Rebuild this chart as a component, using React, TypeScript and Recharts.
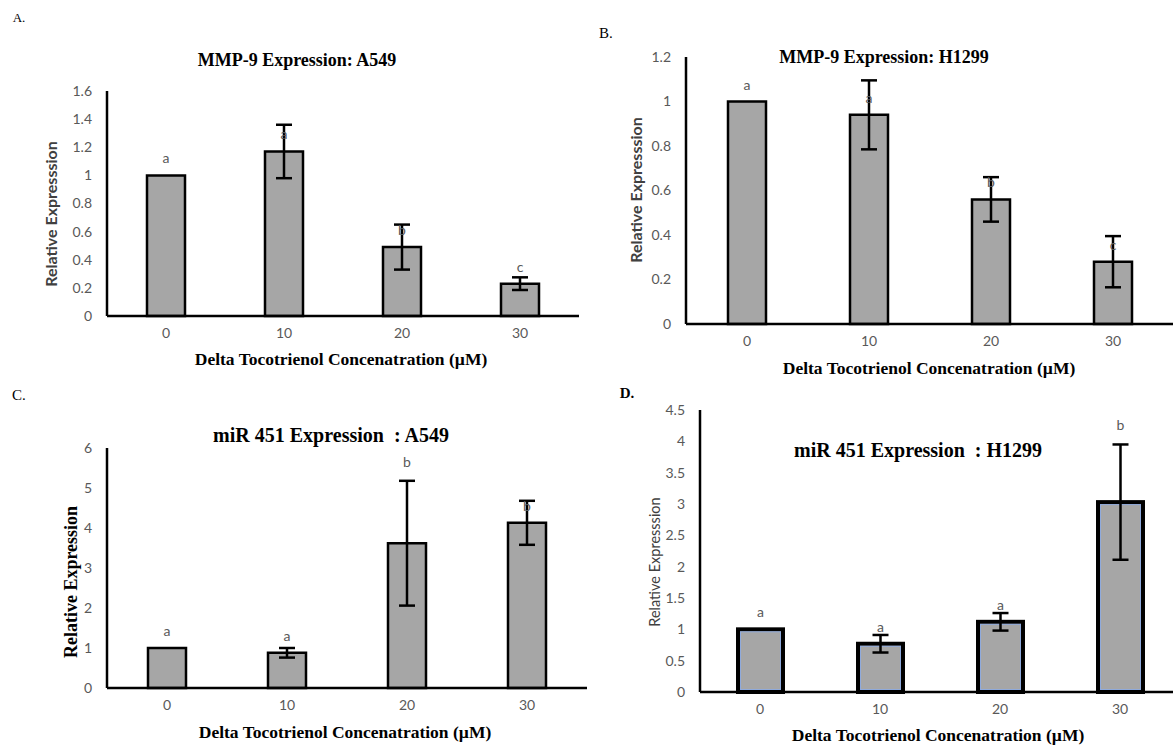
import React from "react";
import { BarChart, Bar, XAxis, YAxis, ErrorBar, LabelList } from "recharts";

const doses = ["0", "10", "20", "30"];

// A. MMP-9 / A549
const mmpA549 = [1.0, 1.17, 0.49, 0.23];
const mmpA549Err = [0, 0.19, 0.16, 0.045];
const mmpA549Letters = ["a", "a", "b", "c"];
const mmpA549Ticks = [0, 0.2, 0.4, 0.6, 0.8, 1, 1.2, 1.4, 1.6];

// B. MMP-9 / H1299
const mmpH1299 = [1.0, 0.94, 0.56, 0.28];
const mmpH1299Err = [0, 0.155, 0.1, 0.115];
const mmpH1299Letters = ["a", "a", "b", "c"];
const mmpH1299Ticks = [0, 0.2, 0.4, 0.6, 0.8, 1, 1.2];

// C. miR 451 / A549
const mirA549 = [1.0, 0.88, 3.62, 4.13];
const mirA549Err = [0, 0.12, 1.56, 0.55];
const mirA549Letters = ["a", "a", "b", "b"];
const mirA549Ticks = [0, 1, 2, 3, 4, 5, 6];

// D. miR 451 / H1299
const mirH1299 = [1.0, 0.77, 1.12, 3.03];
const mirH1299Err = [0, 0.14, 0.14, 0.92];
const mirH1299Letters = ["a", "a", "a", "b"];
const mirH1299Ticks = [0, 0.5, 1, 1.5, 2, 2.5, 3, 3.5, 4, 4.5];

const xTitle = "Delta Tocotrienol Concenatration (\u00b5M)";
const sans = "Lato, 'Open Sans', sans-serif";
const serif = "'Liberation Serif', 'DejaVu Serif', serif";
const tickGrey = "#595959";

function buildRows(values: number[], errs: number[], letters: string[]) {
  return doses.map((d, i) => ({ dose: d, value: values[i], err: errs[i], letter: letters[i] }));
}

// letter sits just above the bar, or above the error bar when listed in overErr
function makeLetter(values: number[], errs: number[], overErr: number[]) {
  return (props: any) => {
    const { x, y, width, height, index, value } = props;
    const v = values[index];
    const ppu = v ? height / v : 0;
    const top = overErr.includes(index) ? y - errs[index] * ppu - 14 : y - 12;
    return (
      <text x={x + width / 2} y={top} textAnchor="middle" fill={tickGrey} fontSize={14} fontFamily={sans}>
        {value}
      </text>
    );
  };
}

const thickBar = (props: any) => {
  const { x, y, width, height } = props;
  return (
    <g>
      <rect x={x} y={y} width={width} height={height} fill="#a6a6a6" stroke="#000" strokeWidth={4} />
      <rect x={x + 2.5} y={y + 2.5} width={width - 5} height={Math.max(0, height - 5)} fill="none" stroke="#8faadc" strokeWidth={1} />
    </g>
  );
};

interface PanelProps {
  left: number;
  top: number;
  width: number;
  height: number;
  margin: { top: number; right: number; bottom: number; left: number };
  values: number[];
  errs: number[];
  letters: string[];
  ticks: number[];
  overErr: number[];
  barSize: number;
  thick?: boolean;
}

function Panel(p: PanelProps) {
  const rows = buildRows(p.values, p.errs, p.letters);
  const max = p.ticks[p.ticks.length - 1];
  return (
    <div style={{ position: "absolute", left: p.left, top: p.top }}>
      <BarChart width={p.width} height={p.height} data={rows} margin={p.margin}>
        <XAxis
          dataKey="dose"
          height={30}
          axisLine={{ stroke: "#000", strokeWidth: 2.5 }}
          tickLine={false}
          tickMargin={6}
          tick={{ fill: tickGrey, fontSize: 14, fontFamily: sans }}
        />
        <YAxis
          width={50}
          domain={[0, max]}
          ticks={p.ticks}
          interval={0}
          axisLine={{ stroke: "#000", strokeWidth: 2.5 }}
          tickLine={false}
          tickMargin={9}
          tick={{ fill: tickGrey, fontSize: 14, fontFamily: sans }}
        />
        <Bar
          dataKey="value"
          barSize={p.barSize}
          fill="#a6a6a6"
          stroke="#000"
          strokeWidth={2.5}
          shape={p.thick ? thickBar : undefined}
          isAnimationActive={false}
        >
          <ErrorBar dataKey="err" width={8} stroke="#000" strokeWidth={2.5} direction="y" />
          <LabelList dataKey="letter" content={makeLetter(p.values, p.errs, p.overErr)} />
        </Bar>
      </BarChart>
    </div>
  );
}

function Text(props: { x: number; y: number; size: number; font: string; bold?: boolean; rotate?: boolean; color?: string; children: React.ReactNode }) {
  return (
    <div
      style={{
        position: "absolute",
        left: props.x,
        top: props.y,
        transform: `translate(-50%, -50%)${props.rotate ? " rotate(-90deg)" : ""}`,
        whiteSpace: "nowrap",
        fontSize: props.size,
        fontFamily: props.font,
        fontWeight: props.bold ? "bold" : "normal",
        color: props.color || "#000",
        lineHeight: 1,
      }}
    >
      {props.children}
    </div>
  );
}

export default function App() {
  return (
    <div style={{ position: "absolute", left: 0, top: 0, width: 1173, height: 746, overflow: "hidden", background: "#fff" }}>
      <Panel left={0} top={0} width={600} height={380} margin={{ top: 91, right: 21, bottom: 34, left: 57 }}
        values={mmpA549} errs={mmpA549Err} letters={mmpA549Letters} ticks={mmpA549Ticks} overErr={[]} barSize={38} />
      <Panel left={600} top={0} width={580} height={380} margin={{ top: 57, right: 6, bottom: 26, left: 36 }}
        values={mmpH1299} errs={mmpH1299Err} letters={mmpH1299Letters} ticks={mmpH1299Ticks} overErr={[]} barSize={38} />
      <Panel left={0} top={380} width={600} height={366} margin={{ top: 68, right: 13, bottom: 28, left: 57 }}
        values={mirA549} errs={mirA549Err} letters={mirA549Letters} ticks={mirA549Ticks} overErr={[2]} barSize={38} />
      <Panel left={600} top={380} width={590} height={366} margin={{ top: 30, right: 10, bottom: 24, left: 50 }}
        values={mirH1299} errs={mirH1299Err} letters={mirH1299Letters} ticks={mirH1299Ticks} overErr={[3]} barSize={45} thick />

      <Text x={19} y={17} size={13} font={serif}>A.</Text>
      <Text x={606} y={33} size={15} font={serif}>B.</Text>
      <Text x={19} y={395} size={15} font={serif}>C.</Text>
      <Text x={627} y={393} size={15} font={serif} bold>D.</Text>

      <Text x={297} y={60} size={18} font={serif} bold>MMP-9 Expression: A549</Text>
      <Text x={884} y={57} size={18} font={serif} bold>MMP-9 Expression: H1299</Text>
      <Text x={331} y={435} size={20} font={serif} bold>miR 451 Expression&nbsp;&nbsp;: A549</Text>
      <Text x={918} y={450} size={20} font={serif} bold>miR 451 Expression&nbsp;&nbsp;: H1299</Text>

      <Text x={51} y={214} size={16} font={sans} bold rotate color="#404040">Relative Expresssion</Text>
      <Text x={636} y={190} size={16} font={sans} bold rotate color="#404040">Relative Expresssion</Text>
      <Text x={71} y={582} size={18} font={serif} bold rotate>Relative Expression</Text>
      <Text x={655} y={562} size={14.5} font={sans} rotate color="#404040">Relative Expresssion</Text>

      <Text x={341} y={360} size={17.5} font={serif} bold>{xTitle}</Text>
      <Text x={929} y={369} size={17.5} font={serif} bold>{xTitle}</Text>
      <Text x={345} y={733} size={17.5} font={serif} bold>{xTitle}</Text>
      <Text x={938} y={736} size={17.5} font={serif} bold>{xTitle}</Text>
    </div>
  );
}
